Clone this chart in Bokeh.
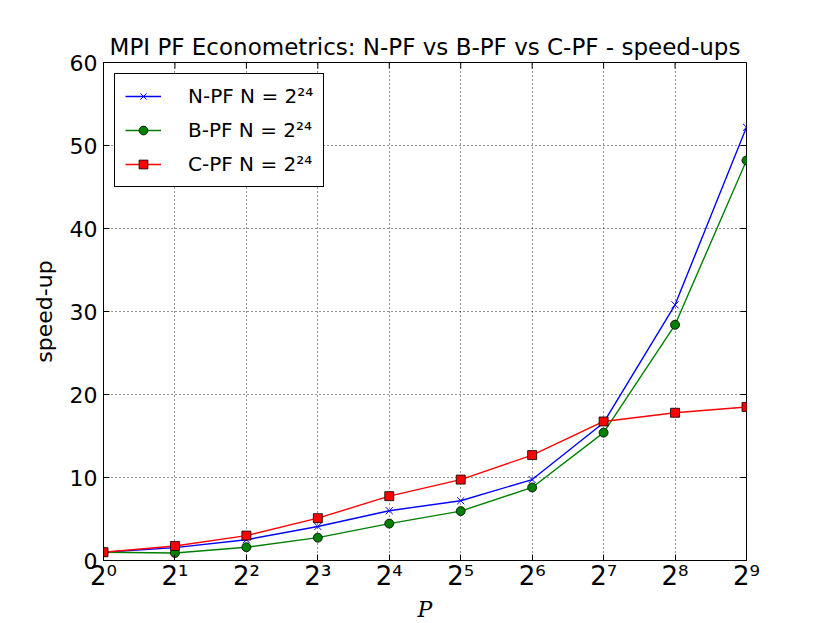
import math
from bokeh.plotting import figure
from bokeh.models import FixedTicker, Legend, LegendItem
from bokeh.embed import file_html
from bokeh.resources import INLINE

# ---- data ----
P = [1, 2, 4, 8, 16, 32, 64, 128, 256, 512]
x_tick_labels = ["2⁰", "2¹", "2²", "2³", "2⁴", "2⁵", "2⁶", "2⁷", "2⁸", "2⁹"]
y_ticks = [0, 10, 20, 30, 40, 50, 60]

npf = [1.0, 1.55, 2.5, 4.1, 6.0, 7.2, 9.75, 16.6, 30.8, 52.2]
bpf = [1.0, 0.9, 1.6, 2.75, 4.45, 5.95, 8.8, 15.4, 28.4, 48.2]
cpf = [1.0, 1.75, 3.0, 5.1, 7.75, 9.75, 12.7, 16.75, 17.8, 18.5]

title_text = "MPI PF Econometrics: N-PF vs B-PF vs C-PF - speed-ups"
labels = ["N-PF N = 2²⁴", "B-PF N = 2²⁴", "C-PF N = 2²⁴"]

FONT = "DejaVu Sans"
X_MIN, X_MAX = P[0], P[-1]
Y_MIN, Y_MAX = y_ticks[0], y_ticks[-1]

p = figure(x_axis_type="log", x_range=(X_MIN, X_MAX), y_range=(Y_MIN, Y_MAX),
           frame_width=643, frame_height=498,
           min_border_left=103, min_border_right=68,
           min_border_top=62, min_border_bottom=47,
           output_backend="svg", toolbar_location=None,
           title=title_text)

p.title.text_font = FONT
p.title.text_font_size = "23px"
p.title.text_font_style = "normal"
p.title.align = "center"
p.title.text_color = "black"
p.title.standoff = 6

p.outline_line_color = "black"
p.outline_line_width = 1
p.background_fill_color = "white"
p.border_fill_color = "white"

xt = FixedTicker(ticks=P, minor_ticks=[])
yt = FixedTicker(ticks=y_ticks, minor_ticks=[])

xa = p.xaxis[0]
xa.ticker = xt
xa.major_label_overrides = {v: s for v, s in zip(P, x_tick_labels)}
xa.major_label_text_font = FONT
xa.major_label_text_font_size = "26px"
xa.major_label_standoff = 0
xa.axis_label = "P"
xa.axis_label_text_font = "DejaVu Serif"
xa.axis_label_text_font_style = "italic"
xa.axis_label_text_font_size = "22px"
xa.axis_label_standoff = 3

ya = p.yaxis[0]
ya.ticker = yt
ya.major_label_text_font = FONT
ya.major_label_text_font_size = "22px"
ya.major_label_standoff = 6
ya.axis_label = "speed-up"
ya.axis_label_text_font = FONT
ya.axis_label_text_font_size = "22px"
ya.axis_label_text_font_style = "normal"
ya.axis_label_standoff = 10

for ax in [xa, ya]:
    ax.axis_line_color = "black"
    ax.axis_line_width = 1
    ax.major_tick_in = 6
    ax.major_tick_out = 0
    ax.major_tick_line_color = "black"
    ax.minor_tick_line_color = None
    ax.major_label_text_color = "black"
    ax.axis_label_text_color = "black"

for g in [p.xgrid[0], p.ygrid[0]]:
    g.grid_line_color = "black"
    g.grid_line_dash = "1 3"
    g.grid_line_width = 1
    g.grid_line_alpha = 0.85
p.xgrid[0].ticker = xt
p.ygrid[0].ticker = yt

# inward tick marks on the top and right edges (clipped to the frame)
p.scatter(P, [Y_MAX] * len(P), marker="dash", size=12, angle=math.pi / 2, line_color="black", line_width=1)
p.scatter([X_MAX] * len(y_ticks), y_ticks, marker="dash", size=12, line_color="black", line_width=1)

LW = 1.4
l1 = p.line(P, npf, line_color="#0000ff", line_width=LW)
m1 = p.scatter(P, npf, marker="x", size=10, line_color="#0000ff", line_width=1)
l2 = p.line(P, bpf, line_color="#008000", line_width=LW)
m2 = p.scatter(P, bpf, marker="circle", size=9, fill_color="#008000", line_color="black", line_width=0.8)
l3 = p.line(P, cpf, line_color="#ff0000", line_width=LW)
m3 = p.scatter(P, cpf, marker="square", size=9, fill_color="#ff0000", line_color="black", line_width=0.8)

legend = Legend(items=[LegendItem(label=labels[0], renderers=[l1, m1]),
                       LegendItem(label=labels[1], renderers=[l2, m2]),
                       LegendItem(label=labels[2], renderers=[l3, m3])],
                location="top_left")
legend.margin = 11
legend.padding = 10
legend.spacing = 10
legend.glyph_width = 36
legend.glyph_height = 22
legend.label_standoff = 27
legend.label_text_font = FONT
legend.label_text_font_size = "20px"
legend.label_text_color = "black"
legend.border_line_color = "black"
legend.border_line_width = 1
legend.border_line_alpha = 1
legend.background_fill_color = "white"
legend.background_fill_alpha = 1
p.add_layout(legend)

open("out.html", "w").write(file_html(p, INLINE))
